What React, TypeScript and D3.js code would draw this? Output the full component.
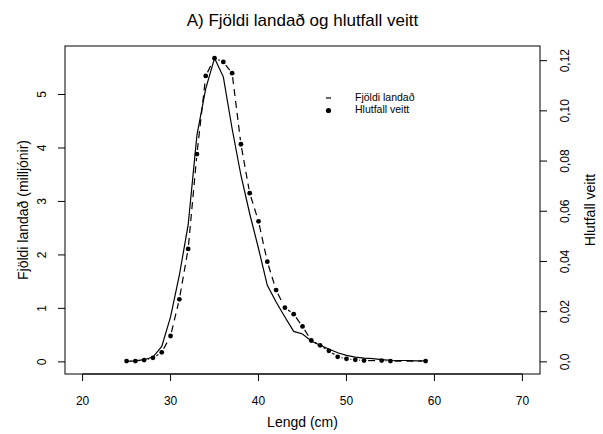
import React from 'react';
import * as d3 from 'd3';

// Fjöldi landað (milljónir) eftir lengd
const lengths = [25, 26, 27, 28, 29, 30, 31, 32, 33, 34, 35, 36, 37, 38, 39, 40, 41, 42,
  43, 44, 45, 46, 47, 48, 49, 50, 51, 52, 53, 54, 55, 56, 57, 58, 59];
const fjoldi = [0.01, 0.02, 0.04, 0.09, 0.29, 0.84, 1.62, 2.56, 4.24, 5.11, 5.68, 5.33, 4.36,
  3.49, 2.77, 2.12, 1.43, 1.12, 0.84, 0.57, 0.52, 0.39, 0.31, 0.24, 0.17, 0.12, 0.09, 0.07,
  0.06, 0.04, 0.03, 0.025, 0.025, 0.02, 0.02];

// Hlutfall veitt eftir lengd
const veittLengths = [25, 26, 27, 28, 29, 30, 31, 32, 33, 34, 35, 36, 37, 38, 39, 40, 41, 42,
  43, 44, 45, 46, 47, 48, 49, 50, 51, 52, 54, 55, 59];
const hlutfall = [0.0003, 0.0003, 0.0007, 0.0016, 0.0038, 0.0103, 0.0249, 0.045, 0.0828,
  0.1139, 0.121, 0.1195, 0.115, 0.0867, 0.0672, 0.056, 0.0399, 0.0286, 0.0216, 0.019, 0.0141,
  0.0085, 0.0066, 0.0044, 0.002, 0.0012, 0.0008, 0.0005, 0.0005, 0.0003, 0.0003];

const xTicks = [20, 30, 40, 50, 60, 70];
const leftTicks = [0, 1, 2, 3, 4, 5];
const rightTicks = [0, 0.02, 0.04, 0.06, 0.08, 0.1, 0.12];
const rightLabels = ['0,0', '0,02', '0,04', '0,06', '0,08', '0,10', '0,12'];

const W = 603;
const H = 434;
const box = { left: 65, right: 540, top: 46, bottom: 374 };
const font = '"Liberation Sans", Arial, Helvetica, sans-serif';

const App = () => {
  const pad = (box.bottom - box.top) * 0.04 / 1.08;
  const x = d3.scaleLinear().domain([18, 72]).range([box.left, box.right]);
  const yL = d3.scaleLinear().domain([0, d3.max(fjoldi)]).range([box.bottom - pad, box.top + pad]);
  const yR = d3.scaleLinear().domain([0, d3.max(hlutfall)]).range([box.bottom - pad, box.top + pad]);

  const solid = d3.line<number>().x((d, i) => x(lengths[i])).y(d => yL(d))(fjoldi);

  // type = "b": dashed segments with a gap around each point
  const gap = 4;
  const segs = [];
  for (let i = 0; i < hlutfall.length - 1; i++) {
    const x1 = x(veittLengths[i]), y1 = yR(hlutfall[i]);
    const x2 = x(veittLengths[i + 1]), y2 = yR(hlutfall[i + 1]);
    const len = Math.hypot(x2 - x1, y2 - y1);
    if (len <= 2 * gap) continue;
    const ux = (x2 - x1) / len, uy = (y2 - y1) / len;
    segs.push({ x1: x1 + ux * gap, y1: y1 + uy * gap, x2: x2 - ux * gap, y2: y2 - uy * gap });
  }

  const midY = (box.top + box.bottom) / 2;

  return (
    <svg width={W} height={H} style={{ position: 'absolute', left: 0, top: 0, background: '#fff' }}
      fontFamily={font}>
      <text x={(box.left + box.right) / 2} y={26} textAnchor="middle" fontSize={17}>
        A) Fjöldi landað og hlutfall veitt
      </text>

      <rect x={box.left} y={box.top} width={box.right - box.left} height={box.bottom - box.top}
        fill="none" stroke="#000" strokeWidth={1} />

      {/* x axis */}
      <line x1={x(20)} x2={x(70)} y1={box.bottom} y2={box.bottom} stroke="#000" />
      {xTicks.map(t => (
        <g key={t}>
          <line x1={x(t)} x2={x(t)} y1={box.bottom} y2={box.bottom + 7} stroke="#000" />
          <text x={x(t)} y={405} textAnchor="middle" fontSize={12}>{t}</text>
        </g>
      ))}
      <text x={(box.left + box.right) / 2} y={427} textAnchor="middle" fontSize={14}>Lengd (cm)</text>

      {/* left axis */}
      {leftTicks.map(t => (
        <g key={t}>
          <line x1={box.left - 7} x2={box.left} y1={yL(t)} y2={yL(t)} stroke="#000" />
          <text transform={`translate(${46},${yL(t)}) rotate(-90)`} textAnchor="middle" fontSize={12}>{t}</text>
        </g>
      ))}
      <text transform={`translate(${28},${midY}) rotate(-90)`} textAnchor="middle" fontSize={14}>
        Fjöldi landað (milljónir)
      </text>

      {/* right axis */}
      {rightTicks.map((t, i) => (
        <g key={t}>
          <line x1={box.right} x2={box.right + 7} y1={yR(t)} y2={yR(t)} stroke="#000" />
          <text transform={`translate(${569},${yR(t)}) rotate(-90)`} textAnchor="middle" fontSize={12}>
            {rightLabels[i]}
          </text>
        </g>
      ))}
      <text transform={`translate(${595},${midY}) rotate(-90)`} textAnchor="middle" fontSize={14}>
        Hlutfall veitt
      </text>

      {/* series */}
      <path d={solid} fill="none" stroke="#000" strokeWidth={1.2} />
      {segs.map((s, i) => (
        <line key={i} {...s} stroke="#000" strokeWidth={1.2} strokeDasharray="7,5" />
      ))}
      {hlutfall.map((v, i) => (
        <circle key={i} cx={x(veittLengths[i])} cy={yR(v)} r={2.4} fill="#000" />
      ))}

      {/* legend */}
      <line x1={326} x2={331} y1={98} y2={98} stroke="#000" strokeWidth={1.2} />
      <circle cx={328.5} cy={110.5} r={2.6} fill="#000" />
      <text x={355} y={98} dominantBaseline="middle" fontSize={10.5}>Fjöldi landað</text>
      <text x={355} y={110.5} dominantBaseline="middle" fontSize={10.5}>Hlutfall veitt</text>
    </svg>
  );
};

export default App;
